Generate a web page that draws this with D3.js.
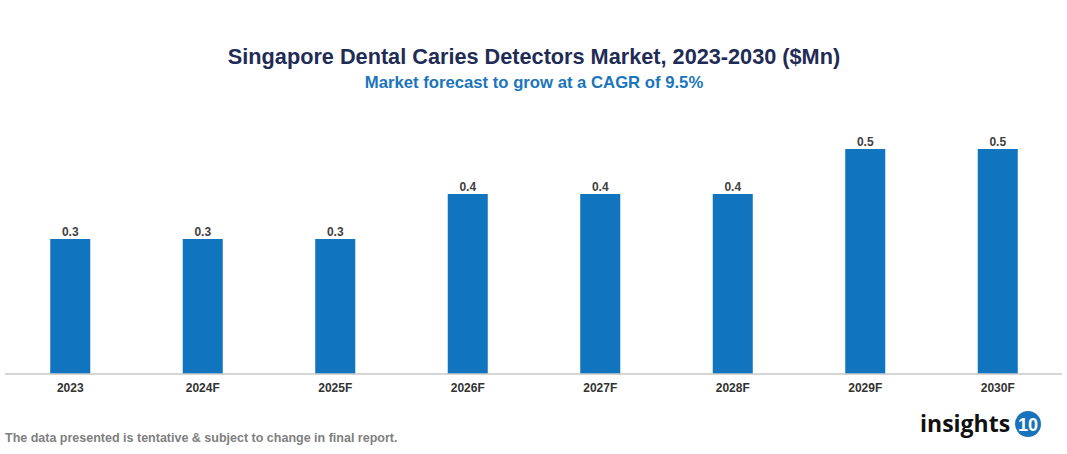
<!DOCTYPE html>
<html>
<head>
<meta charset="utf-8">
<script src="https://cdn.jsdelivr.net/npm/d3@7"></script>
<style>
  body { margin: 0; background: #fff; }
  svg { font-family: "Liberation Sans", Arial, sans-serif; }
</style>
</head>
<body>
<div id="chart"></div>
<script>
// chart data
const years = ['2023', '2024F', '2025F', '2026F', '2027F', '2028F', '2029F', '2030F'];
const values = [0.3, 0.3, 0.3, 0.4, 0.4, 0.4, 0.5, 0.5];

const width = 1067, height = 454;
const baseline = 374;

const svg = d3.select('#chart').append('svg')
  .attr('width', width)
  .attr('height', height);

// scales
const x = d3.scaleBand()
  .domain(years)
  .range([4, 1064])
  .paddingInner(0.698)
  .paddingOuter(0.349);

const y = d3.scaleLinear()
  .domain([0, 0.5])
  .range([baseline, baseline - 225]);

// title
svg.append('text')
  .attr('x', 534).attr('y', 64)
  .attr('text-anchor', 'middle')
  .attr('font-size', 21.7).attr('font-weight', 'bold')
  .attr('fill', '#1f2c56')
  .text('Singapore Dental Caries Detectors Market, 2023-2030 ($Mn)');

svg.append('text')
  .attr('x', 534).attr('y', 88)
  .attr('text-anchor', 'middle')
  .attr('font-size', 16.7).attr('font-weight', 'bold')
  .attr('fill', '#1b75bb')
  .text('Market forecast to grow at a CAGR of 9.5%');

// bars
svg.selectAll('rect.bar')
  .data(values)
  .enter()
  .append('rect')
  .attr('class', 'bar')
  .attr('x', (d, i) => x(years[i]))
  .attr('y', d => y(d))
  .attr('width', x.bandwidth())
  .attr('height', d => baseline - y(d))
  .attr('fill', '#1174be');

// value labels
svg.selectAll('text.val')
  .data(values)
  .enter()
  .append('text')
  .attr('class', 'val')
  .attr('x', (d, i) => x(years[i]) + x.bandwidth() / 2)
  .attr('y', d => y(d) - 3)
  .attr('text-anchor', 'middle')
  .attr('font-size', 12).attr('font-weight', 'bold')
  .attr('fill', '#404040')
  .text(d => d.toFixed(1));

// x axis
const xAxis = svg.append('g')
  .attr('transform', `translate(0,${baseline})`)
  .call(d3.axisBottom(x).tickSize(0).tickPadding(9));
xAxis.select('.domain').attr('stroke', '#c8c8c8').attr('stroke-width', 1.5)
  .attr('d', 'M5,0H1062');
xAxis.selectAll('text')
  .attr('font-size', 12).attr('font-weight', 'bold')
  .attr('fill', '#333')
  .attr('font-family', '"Liberation Sans", Arial, sans-serif');

// footnote
svg.append('text')
  .attr('x', 5).attr('y', 442)
  .attr('font-size', 12.5).attr('font-weight', 'bold')
  .attr('fill', '#808080')
  .text('The data presented is tentative & subject to change in final report.');

// logo
svg.append('text')
  .attr('x', 920).attr('y', 432)
  .attr('font-size', 23).attr('font-weight', 'bold')
  .attr('font-family', '"Open Sans", "Noto Sans", sans-serif')
  .attr('fill', '#111')
  .text('insights');
svg.append('circle')
  .attr('cx', 1028).attr('cy', 424).attr('r', 13)
  .attr('fill', '#1a73ba');
svg.append('text')
  .attr('x', 1028).attr('y', 431)
  .attr('text-anchor', 'middle')
  .attr('font-size', 18).attr('font-weight', 'bold')
  .attr('fill', '#fff')
  .text('10');
</script>
</body>
</html>
